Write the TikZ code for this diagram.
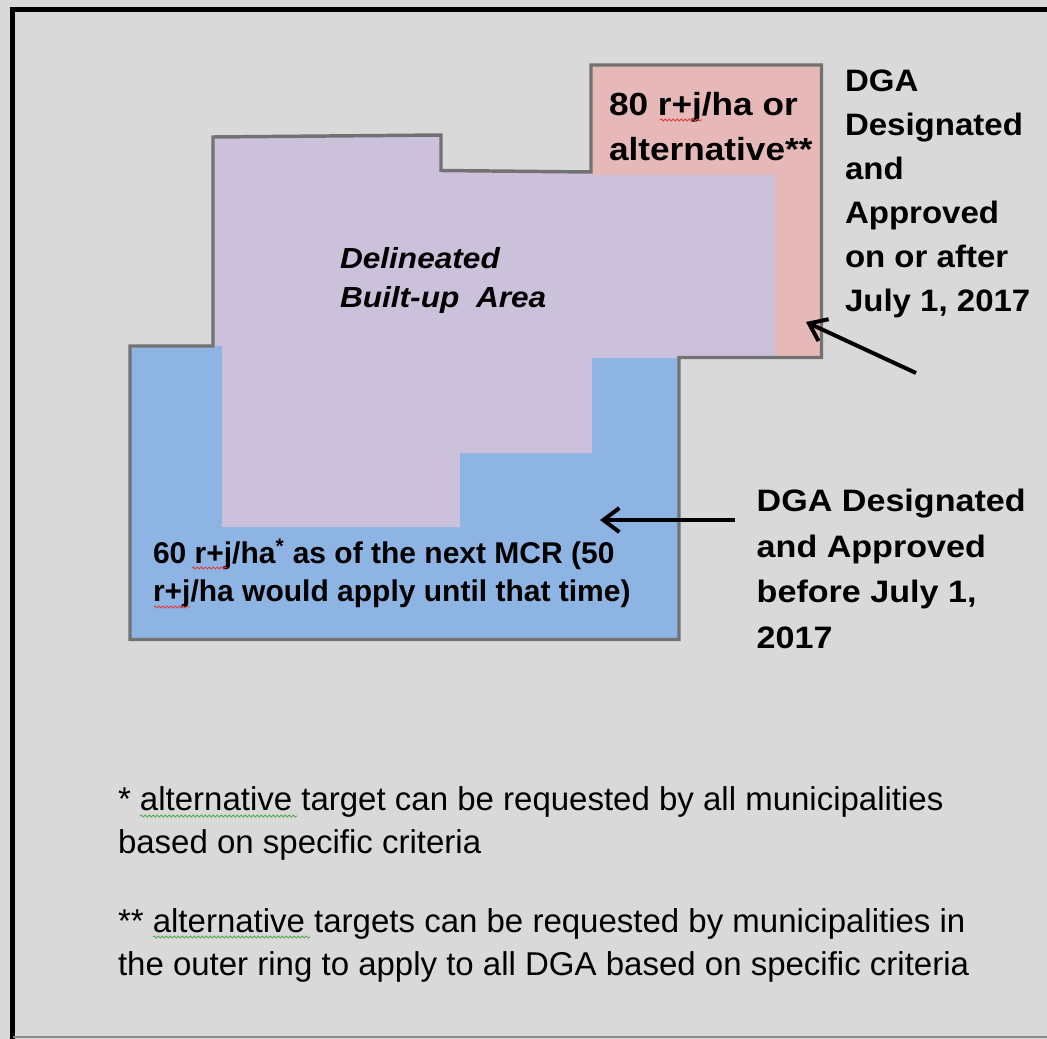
\documentclass[tikz,border=0pt]{standalone}
\usepackage{fontspec}
\setmainfont{Liberation Sans}
\usetikzlibrary{arrows.meta,decorations.pathmorphing}
\definecolor{bgc}{HTML}{D9D9D9}
\definecolor{bluefill}{HTML}{8EB4E3}
\definecolor{pinkfill}{HTML}{E6B9B8}
\definecolor{purplefill}{HTML}{CCC1DA}
\definecolor{outlinec}{HTML}{727272}
\definecolor{framebot}{HTML}{8C8C8C}
\definecolor{squigred}{HTML}{E23C3C}
\definecolor{squiggreen}{HTML}{4FAF4F}
\newcommand{\txtblock}[2]{\scalebox{#1}[1]{\begin{tabular}[t]{@{}l@{}}#2\end{tabular}}}
\tikzset{
  lbl/.style={anchor=base west, inner sep=0pt, outer sep=0pt, text=black},
  arr/.style={line width=3pt, -{Straight Barb[length=12pt,width=18pt]}},
  region/.style={draw=none},
  squig/.style={line width=0.7pt, decorate, decoration={snake, amplitude=0.7pt, segment length=3pt}},
}
\begin{document}
\begin{tikzpicture}[x=0.75pt,y=-0.75pt]
\useasboundingbox (0,0) rectangle (1047,1039);
\fill[bgc] (0,0) rectangle (1047,1039);
% frame
\draw[line width=3.2pt, line join=miter] (12.5,1039) -- (12.5,9.5) -- (1047,9.5);
\draw[framebot, line width=1.5pt] (12.5,1036.5) -- (1047,1036.5);
% regions
\fill[bluefill] (130,346) -- (213,346) -- (213,137) -- (441,135) -- (441,170.5) -- (591,172)
  -- (591,65) -- (821.5,65) -- (821.5,357.5) -- (679,357.5) -- (679,639.5) -- (130,639.5) -- cycle;
\fill[pinkfill] (591,65) rectangle (821.5,357.5);
\fill[purplefill] (213,137) -- (441,135) -- (441,170.5) -- (591,172) -- (591,175) -- (775,175)
  -- (775,358) -- (592,358) -- (592,453) -- (460,453) -- (460,527) -- (222,527) -- (222,346)
  -- (213,346) -- cycle;
\draw[outlinec, line width=2.6pt, line join=miter] (130,346) -- (213,346) -- (213,137) -- (441,135)
  -- (441,170.5) -- (591,172) -- (591,65) -- (821.5,65) -- (821.5,357.5) -- (679,357.5)
  -- (679,639.5) -- (130,639.5) -- cycle;
% texts
\node[lbl, font=\fontsize{21.75}{29.25}\selectfont\bfseries\itshape] (dba) at (340,268.3)
  {\txtblock{1.09}{Delineated\\Built-up\hspace{0.25em} Area}};
\node[lbl, font=\fontsize{24}{33.75}\selectfont\bfseries] (eighty) at (609,115)
  {\txtblock{1.1}{80 r+j/ha or\\alternative**}};
\node[lbl, font=\fontsize{23.25}{33}\selectfont\bfseries] (dgaafter) at (845,91.7)
  {\txtblock{1.065}{DGA\\Designated\\and\\Approved\\on or after\\July 1, 2017}};
\node[lbl, font=\fontsize{23.25}{34.1}\selectfont\bfseries] (dgabefore) at (756.7,511.7)
  {\txtblock{1.1}{DGA Designated\\and Approved\\before July 1,\\2017}};
\node[lbl, font=\fontsize{22.5}{28.8}\selectfont\bfseries] (sixty) at (153,563.3)
  {\txtblock{1.0}{60 r+j/ha\textsuperscript{*} as of the next MCR (50\\r+j/ha would apply until that time)}};
\node[lbl, font=\fontsize{24.75}{32.25}\selectfont] (note1) at (118,810)
  {\txtblock{1.0}{* alternative target can be requested by all municipalities\\based on specific criteria}};
\node[lbl, font=\fontsize{24.75}{32.25}\selectfont] (note2) at (118,932)
  {\txtblock{1.0}{** alternative targets can be requested by municipalities in\\the outer ring to apply to all DGA based on specific criteria}};
% spell-check squiggles
\draw[squig, squigred] (660,120) -- (702,120);
\draw[squig, squigred] (192,568) -- (227,568);
\draw[squig, squigred] (154,607) -- (190,607);
\draw[squig, squiggreen] (140,816) -- (297,816);
\draw[squig, squiggreen] (153,937) -- (310,937);
% arrows
\coordinate (a1tail) at (916,373);
\coordinate (a1tip) at (806,322);
\coordinate (a2tail) at (735,520);
\coordinate (a2tip) at (600,520);
\draw[arr] (a1tail) -- (a1tip);
\draw[arr] (a2tail) -- (a2tip);
\end{tikzpicture}
\end{document}
